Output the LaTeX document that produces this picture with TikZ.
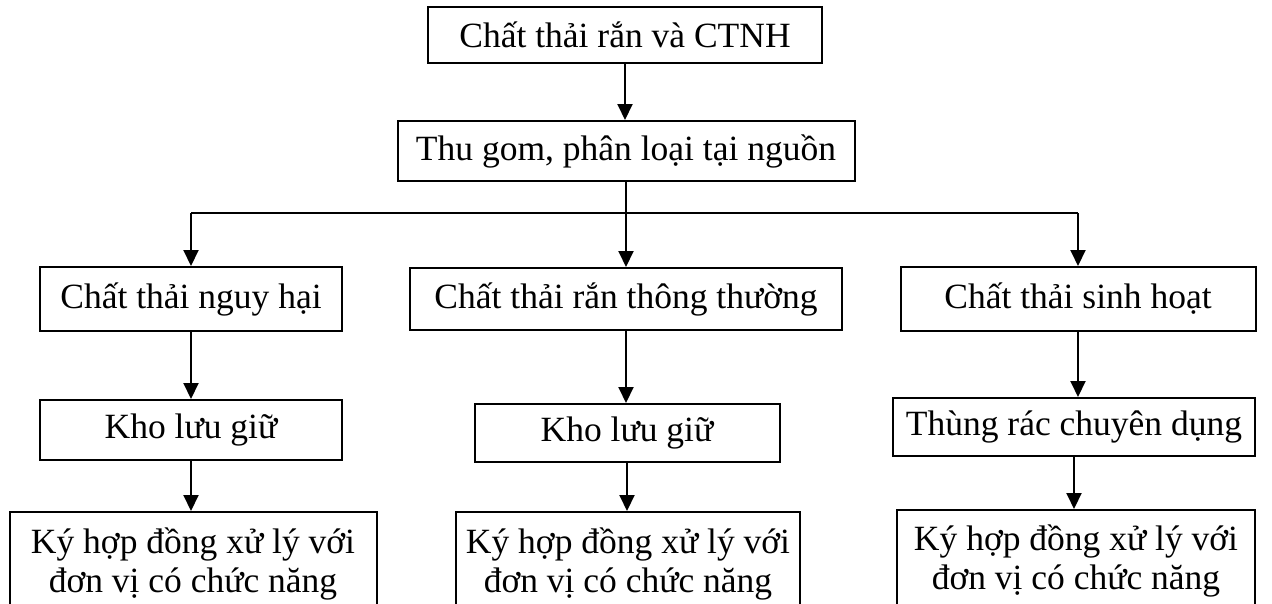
\documentclass[tikz,border=0pt]{standalone}
\usepackage{fontspec}
\setmainfont{Liberation Serif}
\usetikzlibrary{arrows.meta}
\begin{document}
\begin{tikzpicture}[x=1pt,y=-1pt,
  box/.style={draw,line width=2pt,inner sep=0pt,align=center,font=\fontsize{35.5}{39}\selectfont},
  arr/.style={line width=2pt,-{Triangle[length=16pt,width=15pt]}},
  ln/.style={line width=1.6pt}]
\useasboundingbox (0,0) rectangle (1272,603);
\node[box,minimum width=394pt,minimum height=56pt] (top) at (625,35) {Chất thải rắn và CTNH};
\node[box,minimum width=457pt,minimum height=60pt] (b2) at (626,151) {Thu gom, phân loại tại nguồn};
\node[box,minimum width=302pt,minimum height=64pt] (n1) at (191,299) {Chất thải nguy hại};
\node[box,minimum width=432pt,minimum height=62pt] (n2) at (626,299) {Chất thải rắn thông thường};
\node[box,minimum width=355pt,minimum height=64pt] (n3) at (1078,299) {Chất thải sinh hoạt};
\node[box,minimum width=302pt,minimum height=60pt] (k1) at (191,430) {Kho lưu giữ};
\node[box,minimum width=305pt,minimum height=58pt] (k2) at (627,433) {Kho lưu giữ};
\node[box,minimum width=362pt,minimum height=58pt] (k3) at (1074,427) {Thùng rác chuyên dụng};
\node[box,minimum width=367pt,minimum height=104pt] (d1) at (193,564) {Ký hợp đồng xử lý với\\đơn vị có chức năng};
\node[box,minimum width=344pt,minimum height=104pt] (d2) at (628,564) {Ký hợp đồng xử lý với\\đơn vị có chức năng};
\node[box,minimum width=358pt,minimum height=102pt] (d3) at (1076,561) {Ký hợp đồng xử lý với\\đơn vị có chức năng};
\coordinate (hL) at (191,213);
\coordinate (hR) at (1078,213);
\draw[arr] (top.south) -- (top.south |- b2.north);
\draw[ln] (hL) -- (hR);
\draw[ln] (b2.south) -- (b2.south |- hL);
\draw[arr] (hL) -- (hL |- n1.north);
\draw[arr] (b2.south |- hL) -- (b2.south |- n2.north);
\draw[arr] (hR) -- (hR |- n3.north);
\draw[arr] (n1.south) -- (n1.south |- k1.north);
\draw[arr] (n2.south) -- (n2.south |- k2.north);
\draw[arr] (n3.south) -- (n3.south |- k3.north);
\draw[arr] (k1.south) -- (k1.south |- d1.north);
\draw[arr] (k2.south) -- (k2.south |- d2.north);
\draw[arr] (k3.south) -- (k3.south |- d3.north);
\end{tikzpicture}
\end{document}
